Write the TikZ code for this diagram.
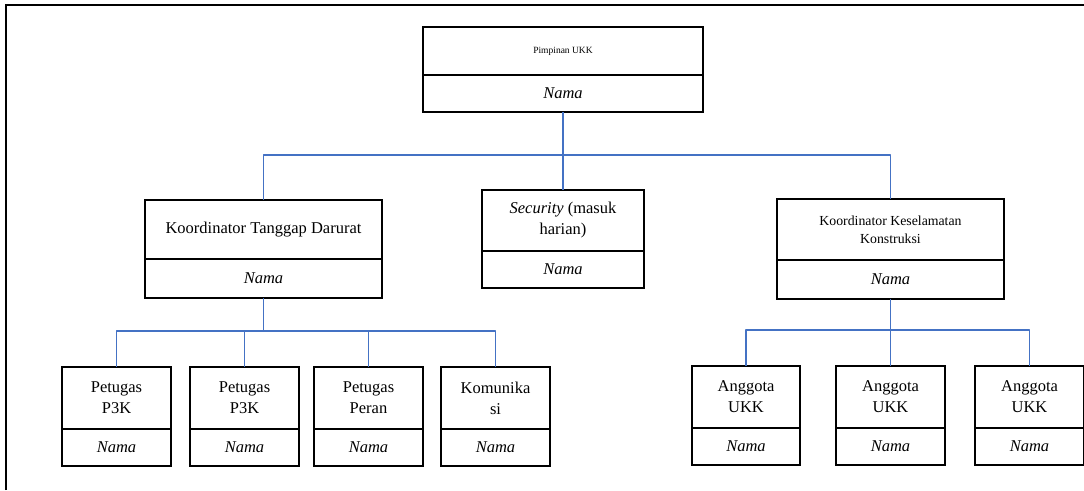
\documentclass[tikz,border=0pt]{standalone}
\usepackage{fontspec}
\setmainfont{Liberation Serif}
\usepackage{tikz}
\usetikzlibrary{positioning,calc}
\definecolor{linkblue}{RGB}{68,114,196}
\tikzset{
x=1pt, y=1pt, % one unit is one pixel of the layout
jobbox/.style={draw, line width=1.8pt, outer sep=0pt, align=center, inner sep=2pt,
    font=\fontsize{16.5}{21}\selectfont},
namebox/.style={jobbox, font=\fontsize{16.5}{21}\selectfont\itshape},
link/.style={draw=linkblue, line width=1.8pt, line join=round},
}

\begin{document}
\begin{tikzpicture}
    \useasboundingbox (0,0) rectangle (1084,-490);
    \draw[line width=2pt] (6,-490) -- (6,-5) -- (1084,-5);

    % top level
    \node[jobbox, minimum width=280, minimum height=48, font=\fontsize{9.5}{12}\selectfont] (ukk) at (563,-51) {Pimpinan UKK};
    \node[namebox, minimum width=280, minimum height=37, below=0pt of ukk] (ukk_n) {Nama};

    % second level
    \node[jobbox, minimum width=237, minimum height=59] (ktd) at (263.5,-229.5) {Koordinator Tanggap Darurat};
    \node[namebox, minimum width=237, minimum height=39, below=0pt of ktd] (ktd_n) {Nama};
    \node[jobbox, minimum width=162, minimum height=61] (sec) at (563,-220.5) {\textit{Security} (masuk\\harian)};
    \node[namebox, minimum width=162, minimum height=37, below=0pt of sec] (sec_n) {Nama};
    \node[jobbox, minimum width=227, minimum height=61, font=\fontsize{13.8}{18}\selectfont] (kkk) at (890.5,-229.5) {Koordinator Keselamatan\\Konstruksi};
    \node[namebox, minimum width=227, minimum height=39, below=0pt of kkk] (kkk_n) {Nama};

    % third level
    \node[jobbox, minimum width=109, minimum height=62] (p3k_1) at (116.5,-398) {Petugas\\P3K};
    \node[namebox, minimum width=109, minimum height=37, below=0pt of p3k_1] (p3k_1n) {Nama};
    \node[jobbox, minimum width=109, minimum height=62] (p3k_2) at (244.5,-398) {Petugas\\P3K};
    \node[namebox, minimum width=109, minimum height=37, below=0pt of p3k_2] (p3k_2n) {Nama};
    \node[jobbox, minimum width=109, minimum height=62] (peran) at (368.5,-398) {Petugas\\Peran};
    \node[namebox, minimum width=109, minimum height=37, below=0pt of peran] (peran_n) {Nama};
    \node[jobbox, minimum width=109, minimum height=62] (kom) at (495.5,-398) {Komunika\\si};
    \node[namebox, minimum width=109, minimum height=37, below=0pt of kom] (kom_n) {Nama};

    \node[jobbox, minimum width=108, minimum height=62] (ang_1) at (746,-397) {Anggota\\UKK};
    \node[namebox, minimum width=108, minimum height=37, below=0pt of ang_1] (ang_1n) {Nama};
    \node[jobbox, minimum width=109, minimum height=62] (ang_2) at (890.5,-397) {Anggota\\UKK};
    \node[namebox, minimum width=109, minimum height=37, below=0pt of ang_2] (ang_2n) {Nama};
    \node[jobbox, minimum width=109, minimum height=62] (ang_3) at (1029.5,-397) {Anggota\\UKK};
    \node[namebox, minimum width=109, minimum height=37, below=0pt of ang_3] (ang_3n) {Nama};

    % connectors
    \coordinate (bus_top) at (0,-155);
    \coordinate (bus_ktd) at (0,-331);
    \coordinate (bus_kkk) at (0,-330);
    \draw[link] (ukk_n.south) -- (ukk_n.south |- bus_top) -| (ktd.north);
    \draw[link] (ukk_n.south |- bus_top) -| (kkk.north);
    \draw[link] (ukk_n.south |- bus_top) -- (sec.north);

    \draw[link] (ktd_n.south) -- (ktd_n.south |- bus_ktd) -| (p3k_1.north);
    \draw[link] (ktd_n.south |- bus_ktd) -| (p3k_2.north);
    \draw[link] (ktd_n.south |- bus_ktd) -| (peran.north);
    \draw[link] (ktd_n.south |- bus_ktd) -| (kom.north);

    \draw[link] (kkk_n.south) -- (kkk_n.south |- bus_kkk) -| (ang_1.north);
    \draw[link] (kkk_n.south |- bus_kkk) -- (ang_2.north);
    \draw[link] (kkk_n.south |- bus_kkk) -| (ang_3.north);
\end{tikzpicture}
\end{document}
